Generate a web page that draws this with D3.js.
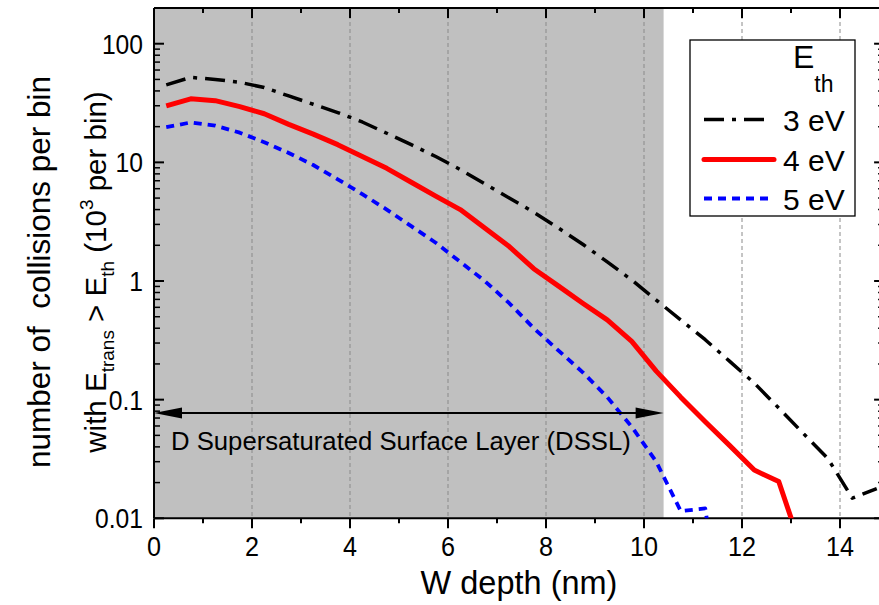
<!DOCTYPE html>
<html><head><meta charset="utf-8">
<script src="https://cdn.jsdelivr.net/npm/d3@7"></script>
<style>
html,body{margin:0;padding:0;background:#fff;}
svg{display:block;font-family:"Liberation Sans",Arial,sans-serif;}
</style></head>
<body><svg id="c" width="879" height="605"></svg>
<script>
// ---- data ----
const depth3 = [0.25,0.75,1.25,1.75,2.25,2.75,3.25,3.75,4.25,4.75,5.25,5.75,6.25,6.75,7.25,7.75,8.25,8.75,9.25,9.75,10.25,10.75,11.25,11.75,12.25,12.75,13.25,13.75,14.25,14.75];
const eV3 = [45,52,50,47.3,42.7,36.3,30.9,26.3,21.9,17.6,14.1,11.2,8.7,6.6,5.0,3.8,2.8,2.04,1.45,1.02,0.69,0.47,0.32,0.21,0.138,0.085,0.052,0.032,0.0148,0.0178];
const depth4 = [0.25,0.75,1.25,1.75,2.25,2.75,3.25,3.75,4.25,4.75,5.25,5.75,6.25,6.75,7.25,7.75,8.25,8.75,9.25,9.75,10.25,10.75,11.25,11.75,12.25,12.75,13.25];
const eV4 = [29.9,34.3,33.1,29.5,25.7,20.9,17.3,14.1,11.2,8.9,6.8,5.2,4.0,2.8,1.95,1.27,0.91,0.65,0.47,0.31,0.174,0.105,0.065,0.041,0.0255,0.0204,0.005];
const depth5 = [0.25,0.75,1.25,1.75,2.25,2.75,3.25,3.75,4.25,4.75,5.25,5.75,6.25,6.75,7.25,7.75,8.25,8.75,9.25,9.75,10.25,10.75,11.25,11.75];
const eV5 = [19.8,21.7,20.4,17.8,14.8,12.0,9.5,7.2,5.4,4.0,2.9,2.1,1.45,1.0,0.65,0.40,0.26,0.17,0.105,0.059,0.030,0.0115,0.0121,0.0005];
const seriesNames = ["3 eV","4 eV","5 eV"];
const xTicks = [0,2,4,6,8,10,12,14];
const xMinorTicks = [1,3,5,7,9,11,13];
const yTicks = [0.01,0.1,1,10,100];
const yTickLabels = ["0.01","0.1","1","10","100"];
const dsslEnd = 10.4;
const arrowY = 0.077;

// ---- layout ----
const svg = d3.select("#c");
const L = 154, T = 8, B = 518.3;
const x = d3.scaleLinear().domain([0,14.9]).range([L, L+14.9*49]);
const y = d3.scaleLog().domain([0.01,200]).range([B, T]);
const R = x(14.9);

svg.append("defs").append("clipPath").attr("id","clip")
  .append("rect").attr("x",L).attr("y",T).attr("width",R-L).attr("height",B-T);

// shaded layer
svg.append("rect").attr("x",L).attr("y",T).attr("width",x(dsslEnd)-L).attr("height",B-T).attr("fill","#c0c0c0");

// grid
svg.append("g").selectAll("line").data(xTicks.filter(d=>d>0)).join("line")
  .attr("x1",d=>x(d)).attr("x2",d=>x(d)).attr("y1",T).attr("y2",B)
  .attr("stroke","#8a8a8a").attr("stroke-width",1).attr("stroke-dasharray","4,3");

// minor y ticks
const yMinor = [];
[0.01,0.1,1,10,100].forEach(dec=>{for(let k=2;k<=9;k++){const v=dec*k; if(v<=200) yMinor.push(v);}});

// axes
const axG = svg.append("g").attr("stroke","#000").attr("stroke-width",2);
axG.append("line").attr("x1",L).attr("x2",R).attr("y1",B).attr("y2",B);
axG.append("line").attr("x1",L).attr("x2",R).attr("y1",T).attr("y2",T);
axG.append("line").attr("x1",L).attr("x2",L).attr("y1",T).attr("y2",B);
axG.append("line").attr("x1",R).attr("x2",R).attr("y1",T).attr("y2",B);
xTicks.forEach(d=>{
  axG.append("line").attr("x1",x(d)).attr("x2",x(d)).attr("y1",B).attr("y2",B+10);
  axG.append("line").attr("x1",x(d)).attr("x2",x(d)).attr("y1",T).attr("y2",T+10);
});
xMinorTicks.forEach(d=>{
  axG.append("line").attr("x1",x(d)).attr("x2",x(d)).attr("y1",B).attr("y2",B+5);
  axG.append("line").attr("x1",x(d)).attr("x2",x(d)).attr("y1",T).attr("y2",T+5);
});
yTicks.forEach(d=>{
  axG.append("line").attr("x1",L).attr("x2",L+10).attr("y1",y(d)).attr("y2",y(d));
  axG.append("line").attr("x1",R).attr("x2",R-10).attr("y1",y(d)).attr("y2",y(d));
});
yMinor.forEach(d=>{
  axG.append("line").attr("x1",L).attr("x2",L+6).attr("y1",y(d)).attr("y2",y(d)).attr("stroke-width",1.5);
  axG.append("line").attr("x1",R).attr("x2",R-6).attr("y1",y(d)).attr("y2",y(d)).attr("stroke-width",1.5);
});

// tick labels (slightly condensed as in the original)
svg.append("g").selectAll("text").data(xTicks).join("text")
  .attr("transform",d=>`translate(${x(d)},556) scale(0.9,1)`).attr("text-anchor","middle")
  .attr("font-size",28).text(d=>d);
svg.append("g").selectAll("text").data(yTicks).join("text")
  .attr("transform",d=>`translate(143,${y(d)+10}) scale(0.88,1)`).attr("text-anchor","end")
  .attr("font-size",28).text((d,i)=>yTickLabels[i]);

// axis titles
svg.append("text").attr("x",519).attr("y",594).attr("text-anchor","middle")
  .attr("font-size",32.5).text("W depth (nm)");

const yl1 = svg.append("text").attr("transform","translate(50,272) rotate(-90)")
  .attr("text-anchor","middle").attr("font-size",31.5).attr("xml:space","preserve");
yl1.text("number of  collisions per bin");
const yl2 = svg.append("text").attr("transform","translate(106,272) rotate(-90)")
  .attr("text-anchor","middle").attr("font-size",29.5);
yl2.append("tspan").text("with E");
yl2.append("tspan").attr("font-size",19).attr("dy",8).text("trans");
yl2.append("tspan").attr("dy",-8).text(" > E");
yl2.append("tspan").attr("font-size",19).attr("dy",8).text("th");
yl2.append("tspan").attr("dy",-8).text(" (10");
yl2.append("tspan").attr("font-size",19).attr("dy",-13).text("3");
yl2.append("tspan").attr("dy",13).text(" per bin)");

// series
const styles = [
  {color:"#000", w:3.5, dash:"20,8,4,8"},
  {color:"#ff0000", w:5, dash:null},
  {color:"#0000ff", w:3.8, dash:"8,6"}
];
const seriesData = [
  depth3.map((d,i)=>[d,eV3[i]]),
  depth4.map((d,i)=>[d,eV4[i]]),
  depth5.map((d,i)=>[d,eV5[i]])
];
const line = d3.line().x(d=>x(d[0])).y(d=>y(d[1]));
const lg = svg.append("g").attr("clip-path","url(#clip)");
seriesData.forEach((s,i)=>{
  lg.append("path").datum(s).attr("d",line).attr("fill","none")
    .attr("stroke",styles[i].color).attr("stroke-width",styles[i].w)
    .attr("stroke-linejoin","round")
    .attr("stroke-dasharray",styles[i].dash);
});

// arrow
const ay = y(arrowY);
const ag = svg.append("g");
ag.append("line").attr("x1",L+20).attr("x2",x(dsslEnd)-20).attr("y1",ay).attr("y2",ay)
  .attr("stroke","#000").attr("stroke-width",2);
ag.append("path").attr("d",`M${L},${ay} L${L+28},${ay-5.5} L${L+28},${ay+5.5} Z`).attr("fill","#000");
ag.append("path").attr("d",`M${x(dsslEnd)},${ay} L${x(dsslEnd)-28},${ay-5.5} L${x(dsslEnd)-28},${ay+5.5} Z`).attr("fill","#000");
svg.append("text").attr("x",171).attr("y",450).attr("font-size",25.7)
  .text("D Supersaturated Surface Layer (DSSL)");

// legend
const lgd = svg.append("g");
lgd.append("rect").attr("x",690).attr("y",40).attr("width",165).attr("height",176)
  .attr("fill","#fff").attr("stroke","#000").attr("stroke-width",1.3);
const eth = lgd.append("text").attr("x",793).attr("y",68).attr("font-size",32);
eth.append("tspan").text("E");
eth.append("tspan").attr("font-size",23).attr("dy",24).text("th");
const legY = [119.5,159.5,198.5];
seriesNames.forEach((n,i)=>{
  lgd.append("line").attr("x1",704).attr("x2",i===0?765:774).attr("y1",legY[i]).attr("y2",legY[i])
    .attr("stroke",styles[i].color).attr("stroke-width",styles[i].w)
    .attr("stroke-linecap",i===1?"round":"butt")
    .attr("stroke-dasharray",styles[i].dash);
  lgd.append("text").attr("x",783).attr("y",legY[i]+11).attr("font-size",30).text(n);
});
</script></body></html>
